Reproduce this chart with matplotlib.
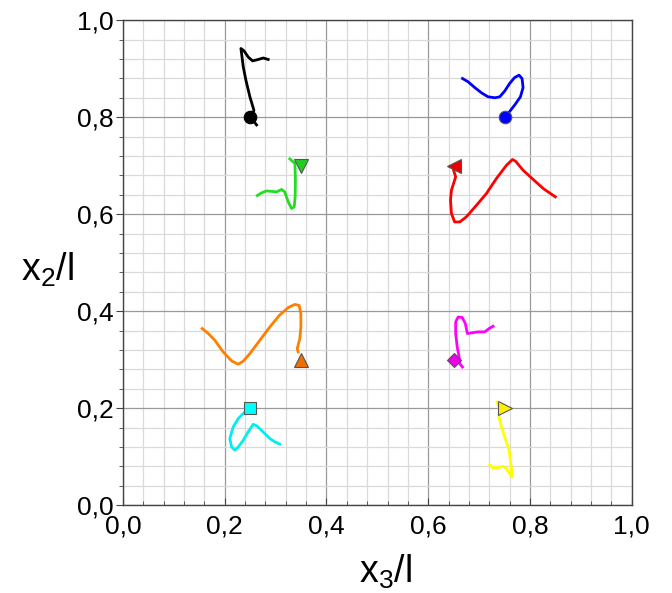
import matplotlib
matplotlib.use("Agg")
import matplotlib.pyplot as plt
from matplotlib.ticker import MultipleLocator, FuncFormatter

plt.rcParams['font.family'] = ['Liberation Sans', 'DejaVu Sans']
plt.rcParams['mathtext.fontset'] = 'custom'
plt.rcParams['mathtext.rm'] = 'Liberation Sans'
plt.rcParams['mathtext.it'] = 'Liberation Sans'

# trajectories (x3/l, x2/l)
black_x = [0.2626, 0.2528, 0.2574, 0.2495, 0.2417, 0.2364, 0.2332, 0.2318, 0.2377, 0.2462, 0.2548, 0.266, 0.2757, 0.2855]
black_y = [0.784, 0.797, 0.8144, 0.842, 0.876, 0.904, 0.931, 0.9416, 0.937, 0.924, 0.916, 0.919, 0.922, 0.919]

green_x = [0.328, 0.338, 0.339, 0.3385, 0.3366, 0.3314, 0.3248, 0.318, 0.3117, 0.302, 0.292, 0.282, 0.2725, 0.264]
green_y = [0.714, 0.7045, 0.670, 0.636, 0.615, 0.6117, 0.6254, 0.646, 0.651, 0.646, 0.647, 0.648, 0.644, 0.6385]

blue_x = [0.750, 0.757, 0.770, 0.7813, 0.7865, 0.7845, 0.7786, 0.770, 0.760, 0.7505, 0.7407, 0.731, 0.7177, 0.705, 0.6916, 0.6784, 0.6674]
blue_y = [0.800, 0.8076, 0.825, 0.842, 0.861, 0.8797, 0.8866, 0.8818, 0.8694, 0.854, 0.842, 0.840, 0.842, 0.850, 0.861, 0.873, 0.8797]

red_x = [0.650, 0.654, 0.6457, 0.6438, 0.6457, 0.652, 0.662, 0.675, 0.695, 0.7145, 0.734, 0.754, 0.7656, 0.772, 0.7865, 0.806, 0.826, 0.850]
red_y = [0.6907, 0.677, 0.6495, 0.629, 0.6014, 0.584, 0.584, 0.5945, 0.6186, 0.6427, 0.6735, 0.701, 0.7127, 0.709, 0.6907, 0.672, 0.653, 0.6357]

orange_x = [0.3445, 0.3425, 0.3477, 0.3497, 0.3497, 0.3464, 0.338, 0.3248, 0.308, 0.2888, 0.269, 0.2495, 0.2364, 0.2266, 0.2135, 0.197, 0.1807, 0.1676, 0.1558]
orange_y = [0.316, 0.323, 0.3436, 0.3677, 0.395, 0.412, 0.414, 0.4076, 0.392, 0.3677, 0.340, 0.3127, 0.297, 0.2907, 0.2976, 0.316, 0.340, 0.354, 0.3643]

cyan_x = [0.250, 0.2377, 0.2266, 0.2167, 0.210, 0.2135, 0.220, 0.2266, 0.2364, 0.246, 0.256, 0.264, 0.2757, 0.2888, 0.2986, 0.3084]
cyan_y = [0.200, 0.1904, 0.1787, 0.1615, 0.1375, 0.120, 0.1134, 0.120, 0.134, 0.151, 0.167, 0.1629, 0.151, 0.1375, 0.1306, 0.126]

magenta_x = [0.6674, 0.662, 0.6608, 0.657, 0.654, 0.654, 0.659, 0.667, 0.673, 0.677, 0.685, 0.698, 0.711, 0.7197, 0.7275]
magenta_y = [0.285, 0.292, 0.3058, 0.3264, 0.354, 0.378, 0.388, 0.387, 0.3746, 0.354, 0.3553, 0.3574, 0.3574, 0.3643, 0.369]

yellow_x = [0.7354, 0.7407, 0.739, 0.744, 0.7525, 0.759, 0.7623, 0.7656, 0.760, 0.7538, 0.747, 0.7373, 0.7275, 0.721]
yellow_y = [0.213, 0.196, 0.182, 0.1615, 0.134, 0.1134, 0.086, 0.0584, 0.065, 0.0756, 0.080, 0.0777, 0.077, 0.0839]

# start points (markers)
start_x = [0.25, 0.35, 0.75, 0.65, 0.35, 0.25, 0.65, 0.75]
start_y = [0.80, 0.70, 0.80, 0.70, 0.30, 0.20, 0.30, 0.20]

curves = [
    (black_x, black_y, 'black', 'o', 'black'),
    (green_x, green_y, '#22dd22', 'v', '#22cc22'),
    (blue_x, blue_y, '#0000ff', 'o', '#0000ff'),
    (red_x, red_y, '#ff0000', '<', '#ee0000'),
    (orange_x, orange_y, '#ff8000', '^', '#ee7000'),
    (cyan_x, cyan_y, '#00eeee', 's', '#00ffff'),
    (magenta_x, magenta_y, '#ff00ff', 'D', '#ee00ee'),
    (yellow_x, yellow_y, '#ffff00', '>', '#ffee00'),
]

fig = plt.figure(figsize=(6.72, 5.93), dpi=100)
ax = fig.add_axes([0.183, 0.148, 0.757, 0.818])
ax.set_xlim(0, 1)
ax.set_ylim(0, 1)

ax.xaxis.set_major_locator(MultipleLocator(0.2))
ax.xaxis.set_minor_locator(MultipleLocator(0.04))
ax.yaxis.set_major_locator(MultipleLocator(0.2))
ax.yaxis.set_minor_locator(MultipleLocator(0.04))
fmt = FuncFormatter(lambda v, p: f"{v:.1f}".replace('.', ','))
ax.xaxis.set_major_formatter(fmt)
ax.yaxis.set_major_formatter(fmt)

ax.grid(which='major', color='#999999', linewidth=0.9)
ax.grid(which='minor', color='#dadada', linewidth=0.9)
ax.set_axisbelow(True)

ax.tick_params(axis='x', which='major', direction='in', length=5, labelsize=19, pad=7, color='#444444')
ax.tick_params(axis='x', which='minor', direction='in', length=3, color='#444444')
ax.tick_params(axis='y', which='major', direction='out', length=5, labelsize=19, pad=2, color='#444444')
ax.tick_params(axis='y', which='minor', direction='out', length=3, color='#444444')
for s in ax.spines.values():
    s.set_color('#444444')
    s.set_linewidth(1.0)

for i, (xs, ys, col, mk, mfc) in enumerate(curves):
    ax.plot(xs, ys, color=col, linewidth=2, zorder=3)
    ec = 'black' if col == 'black' else '#555555'
    ms = 9 if mk in ('o', 's') else 10
    if mk == 'D':
        ms = 7
    ax.plot([start_x[i]], [start_y[i]], linestyle='none', marker=mk, markersize=ms,
            markerfacecolor=mfc, markeredgecolor=ec, markeredgewidth=0.8, zorder=4)

fig.text(0.573, 0.036, r'$\mathregular{x_3/l}$', fontsize=27, ha='center', va='center')
fig.text(0.07, 0.545, r'$\mathregular{x_2/l}$', fontsize=27, ha='center', va='center')

fig.savefig('out.png', dpi=100)
